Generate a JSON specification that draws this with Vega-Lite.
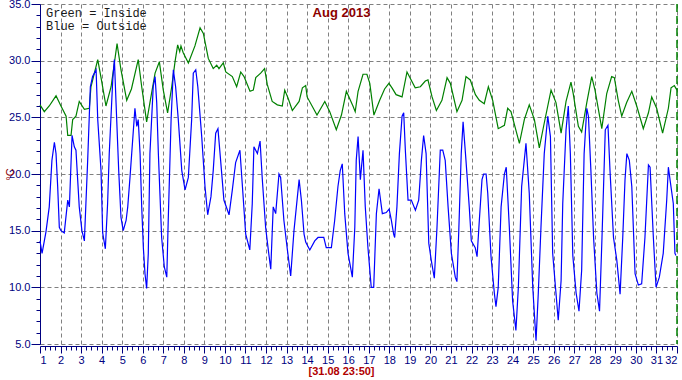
{
  "$schema": "https://vega.github.io/schema/vega-lite/v6.json",
  "width": 637,
  "height": 340,
  "autosize": {"type": "none"},
  "padding": {"left": 40, "top": 4, "right": 5, "bottom": 36},
  "background": "white",
  "config": {"view": {"stroke": null}, "font": "Liberation Sans"},
  "title": {"text": "Aug 2013", "color": "#8B0000", "fontSize": 13, "fontWeight": "bold", "font": "Liberation Sans", "anchor": "middle", "dx": -17, "offset": 0, "dy": 22},
  "datasets": {
    "temps": [
      {"d":1.00,"t":26.1,"s":"Green = Inside"},{"d":1.21,"t":25.5,"s":"Green = Inside"},{"d":1.45,"t":26.0,"s":"Green = Inside"},{"d":1.78,"t":26.9,"s":"Green = Inside"},{"d":2.02,"t":26.0,"s":"Green = Inside"},{"d":2.27,"t":25.1,"s":"Green = Inside"},{"d":2.35,"t":23.4,"s":"Green = Inside"},{"d":2.51,"t":23.4,"s":"Green = Inside"},{"d":2.59,"t":24.8,"s":"Green = Inside"},{"d":2.75,"t":25.1,"s":"Green = Inside"},{"d":2.91,"t":26.4,"s":"Green = Inside"},{"d":3.16,"t":25.7,"s":"Green = Inside"},{"d":3.40,"t":25.8,"s":"Green = Inside"},{"d":3.48,"t":27.7,"s":"Green = Inside"},{"d":3.81,"t":30.1,"s":"Green = Inside"},{"d":3.97,"t":28.5,"s":"Green = Inside"},{"d":4.21,"t":26.0,"s":"Green = Inside"},{"d":4.46,"t":27.7,"s":"Green = Inside"},{"d":4.75,"t":31.5,"s":"Green = Inside"},{"d":4.94,"t":29.2,"s":"Green = Inside"},{"d":5.22,"t":26.5,"s":"Green = Inside"},{"d":5.45,"t":27.5,"s":"Green = Inside"},{"d":5.78,"t":30.1,"s":"Green = Inside"},{"d":5.95,"t":27.7,"s":"Green = Inside"},{"d":6.19,"t":24.6,"s":"Green = Inside"},{"d":6.35,"t":26.3,"s":"Green = Inside"},{"d":6.60,"t":28.9,"s":"Green = Inside"},{"d":6.81,"t":29.9,"s":"Green = Inside"},{"d":7.00,"t":27.4,"s":"Green = Inside"},{"d":7.21,"t":25.4,"s":"Green = Inside"},{"d":7.41,"t":27.7,"s":"Green = Inside"},{"d":7.57,"t":29.9,"s":"Green = Inside"},{"d":7.70,"t":31.4,"s":"Green = Inside"},{"d":7.80,"t":30.8,"s":"Green = Inside"},{"d":7.86,"t":31.3,"s":"Green = Inside"},{"d":7.97,"t":30.7,"s":"Green = Inside"},{"d":8.22,"t":29.8,"s":"Green = Inside"},{"d":8.54,"t":31.3,"s":"Green = Inside"},{"d":8.79,"t":32.9,"s":"Green = Inside"},{"d":8.95,"t":32.4,"s":"Green = Inside"},{"d":9.19,"t":30.2,"s":"Green = Inside"},{"d":9.43,"t":29.3,"s":"Green = Inside"},{"d":9.60,"t":29.6,"s":"Green = Inside"},{"d":9.71,"t":29.3,"s":"Green = Inside"},{"d":9.92,"t":29.8,"s":"Green = Inside"},{"d":10.04,"t":29.0,"s":"Green = Inside"},{"d":10.36,"t":28.6,"s":"Green = Inside"},{"d":10.57,"t":27.7,"s":"Green = Inside"},{"d":10.77,"t":29.0,"s":"Green = Inside"},{"d":10.93,"t":28.6,"s":"Green = Inside"},{"d":11.22,"t":27.3,"s":"Green = Inside"},{"d":11.38,"t":27.4,"s":"Green = Inside"},{"d":11.50,"t":28.5,"s":"Green = Inside"},{"d":11.74,"t":28.9,"s":"Green = Inside"},{"d":11.93,"t":29.3,"s":"Green = Inside"},{"d":12.06,"t":27.9,"s":"Green = Inside"},{"d":12.30,"t":26.4,"s":"Green = Inside"},{"d":12.55,"t":26.1,"s":"Green = Inside"},{"d":12.79,"t":26.0,"s":"Green = Inside"},{"d":12.91,"t":27.4,"s":"Green = Inside"},{"d":13.07,"t":26.7,"s":"Green = Inside"},{"d":13.28,"t":25.6,"s":"Green = Inside"},{"d":13.61,"t":26.4,"s":"Green = Inside"},{"d":13.77,"t":27.6,"s":"Green = Inside"},{"d":13.93,"t":27.8,"s":"Green = Inside"},{"d":14.00,"t":26.8,"s":"Green = Inside"},{"d":14.48,"t":25.2,"s":"Green = Inside"},{"d":14.86,"t":26.4,"s":"Green = Inside"},{"d":15.10,"t":25.5,"s":"Green = Inside"},{"d":15.42,"t":23.9,"s":"Green = Inside"},{"d":15.67,"t":25.2,"s":"Green = Inside"},{"d":15.91,"t":27.3,"s":"Green = Inside"},{"d":16.23,"t":26.0,"s":"Green = Inside"},{"d":16.34,"t":25.5,"s":"Green = Inside"},{"d":16.48,"t":27.3,"s":"Green = Inside"},{"d":16.72,"t":28.8,"s":"Green = Inside"},{"d":16.91,"t":28.8,"s":"Green = Inside"},{"d":17.05,"t":28.0,"s":"Green = Inside"},{"d":17.25,"t":25.2,"s":"Green = Inside"},{"d":17.53,"t":26.5,"s":"Green = Inside"},{"d":17.77,"t":27.5,"s":"Green = Inside"},{"d":17.98,"t":28.0,"s":"Green = Inside"},{"d":18.13,"t":27.6,"s":"Green = Inside"},{"d":18.33,"t":27.0,"s":"Green = Inside"},{"d":18.62,"t":26.8,"s":"Green = Inside"},{"d":18.86,"t":29.0,"s":"Green = Inside"},{"d":19.26,"t":27.6,"s":"Green = Inside"},{"d":19.51,"t":27.7,"s":"Green = Inside"},{"d":19.75,"t":28.2,"s":"Green = Inside"},{"d":19.88,"t":28.3,"s":"Green = Inside"},{"d":20.08,"t":26.8,"s":"Green = Inside"},{"d":20.29,"t":25.6,"s":"Green = Inside"},{"d":20.56,"t":26.5,"s":"Green = Inside"},{"d":20.81,"t":28.5,"s":"Green = Inside"},{"d":20.97,"t":28.0,"s":"Green = Inside"},{"d":21.29,"t":25.5,"s":"Green = Inside"},{"d":21.54,"t":26.5,"s":"Green = Inside"},{"d":21.73,"t":28.6,"s":"Green = Inside"},{"d":21.94,"t":28.3,"s":"Green = Inside"},{"d":22.19,"t":27.0,"s":"Green = Inside"},{"d":22.38,"t":26.5,"s":"Green = Inside"},{"d":22.62,"t":26.2,"s":"Green = Inside"},{"d":22.82,"t":27.7,"s":"Green = Inside"},{"d":23.03,"t":26.5,"s":"Green = Inside"},{"d":23.30,"t":24.0,"s":"Green = Inside"},{"d":23.60,"t":24.3,"s":"Green = Inside"},{"d":23.76,"t":25.8,"s":"Green = Inside"},{"d":23.92,"t":25.5,"s":"Green = Inside"},{"d":24.33,"t":22.7,"s":"Green = Inside"},{"d":24.57,"t":24.8,"s":"Green = Inside"},{"d":24.81,"t":26.1,"s":"Green = Inside"},{"d":25.06,"t":24.8,"s":"Green = Inside"},{"d":25.30,"t":22.3,"s":"Green = Inside"},{"d":25.54,"t":24.5,"s":"Green = Inside"},{"d":25.87,"t":27.4,"s":"Green = Inside"},{"d":26.11,"t":26.3,"s":"Green = Inside"},{"d":26.36,"t":23.6,"s":"Green = Inside"},{"d":26.60,"t":26.4,"s":"Green = Inside"},{"d":26.84,"t":28.1,"s":"Green = Inside"},{"d":26.95,"t":27.1,"s":"Green = Inside"},{"d":27.20,"t":24.2,"s":"Green = Inside"},{"d":27.36,"t":23.7,"s":"Green = Inside"},{"d":27.61,"t":26.3,"s":"Green = Inside"},{"d":27.85,"t":28.6,"s":"Green = Inside"},{"d":28.01,"t":27.4,"s":"Green = Inside"},{"d":28.34,"t":24.0,"s":"Green = Inside"},{"d":28.58,"t":27.1,"s":"Green = Inside"},{"d":28.82,"t":28.6,"s":"Green = Inside"},{"d":28.95,"t":28.5,"s":"Green = Inside"},{"d":29.14,"t":26.5,"s":"Green = Inside"},{"d":29.31,"t":25.1,"s":"Green = Inside"},{"d":29.55,"t":26.3,"s":"Green = Inside"},{"d":29.80,"t":27.3,"s":"Green = Inside"},{"d":30.04,"t":26.0,"s":"Green = Inside"},{"d":30.36,"t":24.0,"s":"Green = Inside"},{"d":30.61,"t":25.4,"s":"Green = Inside"},{"d":30.77,"t":26.8,"s":"Green = Inside"},{"d":31.01,"t":25.8,"s":"Green = Inside"},{"d":31.30,"t":23.6,"s":"Green = Inside"},{"d":31.58,"t":25.8,"s":"Green = Inside"},{"d":31.71,"t":27.6,"s":"Green = Inside"},{"d":31.87,"t":27.8,"s":"Green = Inside"},{"d":32.00,"t":27.4,"s":"Green = Inside"},
      {"d":1.00,"t":14.1,"s":"Blue = Outside"},{"d":1.10,"t":13.0,"s":"Blue = Outside"},{"d":1.29,"t":14.9,"s":"Blue = Outside"},{"d":1.45,"t":17.1,"s":"Blue = Outside"},{"d":1.58,"t":21.2,"s":"Blue = Outside"},{"d":1.70,"t":22.8,"s":"Blue = Outside"},{"d":1.78,"t":21.8,"s":"Blue = Outside"},{"d":1.86,"t":18.9,"s":"Blue = Outside"},{"d":1.94,"t":15.3,"s":"Blue = Outside"},{"d":2.02,"t":15.0,"s":"Blue = Outside"},{"d":2.18,"t":14.8,"s":"Blue = Outside"},{"d":2.35,"t":17.7,"s":"Blue = Outside"},{"d":2.43,"t":17.1,"s":"Blue = Outside"},{"d":2.56,"t":23.4,"s":"Blue = Outside"},{"d":2.67,"t":22.4,"s":"Blue = Outside"},{"d":2.75,"t":22.1,"s":"Blue = Outside"},{"d":2.91,"t":17.1,"s":"Blue = Outside"},{"d":3.04,"t":15.0,"s":"Blue = Outside"},{"d":3.16,"t":14.1,"s":"Blue = Outside"},{"d":3.32,"t":21.2,"s":"Blue = Outside"},{"d":3.45,"t":27.7,"s":"Blue = Outside"},{"d":3.56,"t":28.6,"s":"Blue = Outside"},{"d":3.73,"t":29.2,"s":"Blue = Outside"},{"d":3.81,"t":24.8,"s":"Blue = Outside"},{"d":3.97,"t":20.3,"s":"Blue = Outside"},{"d":4.05,"t":14.8,"s":"Blue = Outside"},{"d":4.18,"t":13.4,"s":"Blue = Outside"},{"d":4.29,"t":17.4,"s":"Blue = Outside"},{"d":4.37,"t":21.8,"s":"Blue = Outside"},{"d":4.54,"t":28.3,"s":"Blue = Outside"},{"d":4.62,"t":30.1,"s":"Blue = Outside"},{"d":4.70,"t":26.3,"s":"Blue = Outside"},{"d":4.83,"t":20.3,"s":"Blue = Outside"},{"d":4.94,"t":16.2,"s":"Blue = Outside"},{"d":5.05,"t":15.0,"s":"Blue = Outside"},{"d":5.19,"t":15.9,"s":"Blue = Outside"},{"d":5.27,"t":17.1,"s":"Blue = Outside"},{"d":5.38,"t":19.7,"s":"Blue = Outside"},{"d":5.62,"t":25.8,"s":"Blue = Outside"},{"d":5.71,"t":24.2,"s":"Blue = Outside"},{"d":5.78,"t":24.8,"s":"Blue = Outside"},{"d":5.87,"t":21.8,"s":"Blue = Outside"},{"d":5.95,"t":17.1,"s":"Blue = Outside"},{"d":6.03,"t":13.5,"s":"Blue = Outside"},{"d":6.11,"t":11.2,"s":"Blue = Outside"},{"d":6.19,"t":9.9,"s":"Blue = Outside"},{"d":6.27,"t":13.0,"s":"Blue = Outside"},{"d":6.35,"t":21.8,"s":"Blue = Outside"},{"d":6.51,"t":27.7,"s":"Blue = Outside"},{"d":6.60,"t":28.6,"s":"Blue = Outside"},{"d":6.68,"t":26.3,"s":"Blue = Outside"},{"d":6.76,"t":21.8,"s":"Blue = Outside"},{"d":6.92,"t":14.4,"s":"Blue = Outside"},{"d":7.05,"t":11.8,"s":"Blue = Outside"},{"d":7.17,"t":10.9,"s":"Blue = Outside"},{"d":7.24,"t":15.9,"s":"Blue = Outside"},{"d":7.38,"t":24.8,"s":"Blue = Outside"},{"d":7.49,"t":29.2,"s":"Blue = Outside"},{"d":7.60,"t":27.7,"s":"Blue = Outside"},{"d":7.73,"t":24.8,"s":"Blue = Outside"},{"d":7.90,"t":20.3,"s":"Blue = Outside"},{"d":8.06,"t":18.6,"s":"Blue = Outside"},{"d":8.22,"t":19.7,"s":"Blue = Outside"},{"d":8.38,"t":24.8,"s":"Blue = Outside"},{"d":8.46,"t":28.9,"s":"Blue = Outside"},{"d":8.58,"t":29.2,"s":"Blue = Outside"},{"d":8.68,"t":27.7,"s":"Blue = Outside"},{"d":8.87,"t":23.3,"s":"Blue = Outside"},{"d":9.03,"t":18.9,"s":"Blue = Outside"},{"d":9.16,"t":16.4,"s":"Blue = Outside"},{"d":9.32,"t":18.0,"s":"Blue = Outside"},{"d":9.43,"t":20.3,"s":"Blue = Outside"},{"d":9.55,"t":23.6,"s":"Blue = Outside"},{"d":9.66,"t":24.0,"s":"Blue = Outside"},{"d":9.79,"t":21.2,"s":"Blue = Outside"},{"d":9.95,"t":17.7,"s":"Blue = Outside"},{"d":10.20,"t":16.4,"s":"Blue = Outside"},{"d":10.36,"t":18.6,"s":"Blue = Outside"},{"d":10.52,"t":21.0,"s":"Blue = Outside"},{"d":10.73,"t":22.1,"s":"Blue = Outside"},{"d":10.84,"t":19.2,"s":"Blue = Outside"},{"d":11.01,"t":14.7,"s":"Blue = Outside"},{"d":11.21,"t":13.3,"s":"Blue = Outside"},{"d":11.33,"t":17.4,"s":"Blue = Outside"},{"d":11.41,"t":22.4,"s":"Blue = Outside"},{"d":11.58,"t":21.8,"s":"Blue = Outside"},{"d":11.71,"t":22.9,"s":"Blue = Outside"},{"d":11.82,"t":19.5,"s":"Blue = Outside"},{"d":11.98,"t":15.3,"s":"Blue = Outside"},{"d":12.11,"t":13.3,"s":"Blue = Outside"},{"d":12.23,"t":11.6,"s":"Blue = Outside"},{"d":12.35,"t":17.1,"s":"Blue = Outside"},{"d":12.47,"t":16.5,"s":"Blue = Outside"},{"d":12.63,"t":20.0,"s":"Blue = Outside"},{"d":12.71,"t":19.7,"s":"Blue = Outside"},{"d":12.87,"t":15.9,"s":"Blue = Outside"},{"d":13.04,"t":13.3,"s":"Blue = Outside"},{"d":13.20,"t":11.0,"s":"Blue = Outside"},{"d":13.36,"t":15.0,"s":"Blue = Outside"},{"d":13.61,"t":19.5,"s":"Blue = Outside"},{"d":13.72,"t":17.7,"s":"Blue = Outside"},{"d":13.85,"t":14.7,"s":"Blue = Outside"},{"d":13.93,"t":14.0,"s":"Blue = Outside"},{"d":14.13,"t":13.3,"s":"Blue = Outside"},{"d":14.37,"t":14.1,"s":"Blue = Outside"},{"d":14.53,"t":14.4,"s":"Blue = Outside"},{"d":14.81,"t":14.4,"s":"Blue = Outside"},{"d":14.93,"t":13.5,"s":"Blue = Outside"},{"d":15.18,"t":13.5,"s":"Blue = Outside"},{"d":15.34,"t":15.9,"s":"Blue = Outside"},{"d":15.50,"t":18.9,"s":"Blue = Outside"},{"d":15.61,"t":20.3,"s":"Blue = Outside"},{"d":15.71,"t":20.9,"s":"Blue = Outside"},{"d":15.83,"t":16.5,"s":"Blue = Outside"},{"d":15.99,"t":13.0,"s":"Blue = Outside"},{"d":16.20,"t":10.9,"s":"Blue = Outside"},{"d":16.32,"t":15.3,"s":"Blue = Outside"},{"d":16.39,"t":21.2,"s":"Blue = Outside"},{"d":16.48,"t":23.3,"s":"Blue = Outside"},{"d":16.59,"t":19.5,"s":"Blue = Outside"},{"d":16.72,"t":22.1,"s":"Blue = Outside"},{"d":16.83,"t":17.1,"s":"Blue = Outside"},{"d":16.96,"t":13.5,"s":"Blue = Outside"},{"d":17.12,"t":10.0,"s":"Blue = Outside"},{"d":17.24,"t":10.0,"s":"Blue = Outside"},{"d":17.37,"t":16.5,"s":"Blue = Outside"},{"d":17.50,"t":18.7,"s":"Blue = Outside"},{"d":17.66,"t":16.5,"s":"Blue = Outside"},{"d":17.85,"t":16.6,"s":"Blue = Outside"},{"d":17.99,"t":16.9,"s":"Blue = Outside"},{"d":18.10,"t":15.9,"s":"Blue = Outside"},{"d":18.21,"t":14.7,"s":"Blue = Outside"},{"d":18.26,"t":14.4,"s":"Blue = Outside"},{"d":18.37,"t":17.1,"s":"Blue = Outside"},{"d":18.49,"t":21.8,"s":"Blue = Outside"},{"d":18.62,"t":25.1,"s":"Blue = Outside"},{"d":18.70,"t":25.4,"s":"Blue = Outside"},{"d":18.78,"t":22.1,"s":"Blue = Outside"},{"d":18.91,"t":17.7,"s":"Blue = Outside"},{"d":19.07,"t":17.7,"s":"Blue = Outside"},{"d":19.27,"t":16.8,"s":"Blue = Outside"},{"d":19.43,"t":17.7,"s":"Blue = Outside"},{"d":19.56,"t":21.2,"s":"Blue = Outside"},{"d":19.67,"t":23.4,"s":"Blue = Outside"},{"d":19.79,"t":21.8,"s":"Blue = Outside"},{"d":19.92,"t":13.9,"s":"Blue = Outside"},{"d":20.04,"t":12.4,"s":"Blue = Outside"},{"d":20.19,"t":10.8,"s":"Blue = Outside"},{"d":20.32,"t":15.3,"s":"Blue = Outside"},{"d":20.48,"t":22.1,"s":"Blue = Outside"},{"d":20.60,"t":22.1,"s":"Blue = Outside"},{"d":20.72,"t":21.2,"s":"Blue = Outside"},{"d":20.86,"t":17.1,"s":"Blue = Outside"},{"d":21.02,"t":13.0,"s":"Blue = Outside"},{"d":21.21,"t":10.9,"s":"Blue = Outside"},{"d":21.29,"t":10.5,"s":"Blue = Outside"},{"d":21.38,"t":15.0,"s":"Blue = Outside"},{"d":21.50,"t":21.8,"s":"Blue = Outside"},{"d":21.59,"t":24.6,"s":"Blue = Outside"},{"d":21.73,"t":21.2,"s":"Blue = Outside"},{"d":21.89,"t":17.1,"s":"Blue = Outside"},{"d":21.99,"t":14.1,"s":"Blue = Outside"},{"d":22.18,"t":13.5,"s":"Blue = Outside"},{"d":22.27,"t":12.7,"s":"Blue = Outside"},{"d":22.38,"t":15.9,"s":"Blue = Outside"},{"d":22.51,"t":19.5,"s":"Blue = Outside"},{"d":22.59,"t":20.0,"s":"Blue = Outside"},{"d":22.71,"t":20.0,"s":"Blue = Outside"},{"d":22.79,"t":18.3,"s":"Blue = Outside"},{"d":22.95,"t":12.7,"s":"Blue = Outside"},{"d":23.11,"t":9.5,"s":"Blue = Outside"},{"d":23.19,"t":8.3,"s":"Blue = Outside"},{"d":23.30,"t":10.0,"s":"Blue = Outside"},{"d":23.44,"t":17.1,"s":"Blue = Outside"},{"d":23.60,"t":20.0,"s":"Blue = Outside"},{"d":23.69,"t":20.6,"s":"Blue = Outside"},{"d":23.84,"t":15.3,"s":"Blue = Outside"},{"d":24.00,"t":8.8,"s":"Blue = Outside"},{"d":24.16,"t":6.2,"s":"Blue = Outside"},{"d":24.28,"t":10.0,"s":"Blue = Outside"},{"d":24.44,"t":18.9,"s":"Blue = Outside"},{"d":24.65,"t":22.7,"s":"Blue = Outside"},{"d":24.81,"t":18.3,"s":"Blue = Outside"},{"d":24.98,"t":10.0,"s":"Blue = Outside"},{"d":25.14,"t":5.3,"s":"Blue = Outside"},{"d":25.25,"t":9.5,"s":"Blue = Outside"},{"d":25.38,"t":15.3,"s":"Blue = Outside"},{"d":25.54,"t":21.8,"s":"Blue = Outside"},{"d":25.71,"t":25.1,"s":"Blue = Outside"},{"d":25.84,"t":23.3,"s":"Blue = Outside"},{"d":25.95,"t":13.0,"s":"Blue = Outside"},{"d":26.11,"t":9.5,"s":"Blue = Outside"},{"d":26.22,"t":7.1,"s":"Blue = Outside"},{"d":26.36,"t":10.6,"s":"Blue = Outside"},{"d":26.44,"t":17.4,"s":"Blue = Outside"},{"d":26.60,"t":23.9,"s":"Blue = Outside"},{"d":26.71,"t":26.0,"s":"Blue = Outside"},{"d":26.81,"t":21.8,"s":"Blue = Outside"},{"d":26.93,"t":12.8,"s":"Blue = Outside"},{"d":27.09,"t":9.5,"s":"Blue = Outside"},{"d":27.23,"t":7.9,"s":"Blue = Outside"},{"d":27.36,"t":11.5,"s":"Blue = Outside"},{"d":27.48,"t":21.8,"s":"Blue = Outside"},{"d":27.61,"t":25.8,"s":"Blue = Outside"},{"d":27.69,"t":25.1,"s":"Blue = Outside"},{"d":27.81,"t":20.3,"s":"Blue = Outside"},{"d":27.94,"t":14.4,"s":"Blue = Outside"},{"d":28.10,"t":9.5,"s":"Blue = Outside"},{"d":28.23,"t":7.9,"s":"Blue = Outside"},{"d":28.35,"t":14.4,"s":"Blue = Outside"},{"d":28.51,"t":23.9,"s":"Blue = Outside"},{"d":28.64,"t":24.3,"s":"Blue = Outside"},{"d":28.74,"t":20.3,"s":"Blue = Outside"},{"d":28.91,"t":14.4,"s":"Blue = Outside"},{"d":29.07,"t":12.4,"s":"Blue = Outside"},{"d":29.23,"t":9.4,"s":"Blue = Outside"},{"d":29.36,"t":14.4,"s":"Blue = Outside"},{"d":29.47,"t":19.5,"s":"Blue = Outside"},{"d":29.56,"t":21.8,"s":"Blue = Outside"},{"d":29.68,"t":21.2,"s":"Blue = Outside"},{"d":29.80,"t":18.9,"s":"Blue = Outside"},{"d":29.96,"t":11.2,"s":"Blue = Outside"},{"d":30.12,"t":10.2,"s":"Blue = Outside"},{"d":30.28,"t":10.3,"s":"Blue = Outside"},{"d":30.44,"t":14.4,"s":"Blue = Outside"},{"d":30.61,"t":20.8,"s":"Blue = Outside"},{"d":30.69,"t":20.6,"s":"Blue = Outside"},{"d":30.85,"t":14.4,"s":"Blue = Outside"},{"d":30.98,"t":10.0,"s":"Blue = Outside"},{"d":31.14,"t":10.9,"s":"Blue = Outside"},{"d":31.33,"t":13.0,"s":"Blue = Outside"},{"d":31.50,"t":17.7,"s":"Blue = Outside"},{"d":31.58,"t":20.6,"s":"Blue = Outside"},{"d":31.66,"t":19.5,"s":"Blue = Outside"},{"d":31.82,"t":17.4,"s":"Blue = Outside"},{"d":31.90,"t":13.0,"s":"Blue = Outside"},{"d":31.95,"t":12.8,"s":"Blue = Outside"}
    ],
    "marker": [{"d": 32}]
  },
  "layer": [
    {
      "data": {"name": "temps"},
      "mark": {"type": "line", "strokeWidth": 1.2},
      "encoding": {
        "x": {"field": "d", "type": "quantitative", "scale": {"domain": [1, 32], "nice": false, "zero": false},
          "axis": {"values": [1,2,3,4,5,6,7,8,9,10,11,12,13,14,15,16,17,18,19,20,21,22,23,24,25,26,27,28,29,30,31,32], "format": "d", "title": "[31.08 23:50]", "titleColor": "#B00000", "titleFontSize": 11, "titleFontWeight": "bold", "titleFont": "Liberation Sans", "titleX": 301, "titleY": 25, "titleBaseline": "middle", "titleAlign": "center", "labelColor": "#000080", "labelFontSize": 11, "labelFont": "Liberation Sans", "labelPadding": 1, "tickColor": "#000080", "tickSize": 7, "domainColor": "#000080", "grid": true, "gridColor": "#808080", "gridDash": [4, 3], "gridWidth": 1, "offset": 2}},
        "y": {"field": "t", "type": "quantitative", "scale": {"domain": [5, 35], "nice": false, "zero": false},
          "axis": {"values": [5,10,15,20,25,30,35], "format": ".1f", "title": "°C", "titleColor": "#8B0000", "titleFontSize": 11, "titleFontWeight": "normal", "titleX": -30, "titleY": 170, "titleAngle": -90, "titleBaseline": "middle", "titleAlign": "center", "labelColor": "#000080", "labelFontSize": 11, "labelFont": "Liberation Sans", "labelPadding": 1, "tickColor": "#000080", "tickSize": 9, "domainColor": "#000080", "grid": true, "gridColor": "#808080", "gridDash": [4, 3], "gridWidth": 1}},
        "color": {"field": "s", "type": "nominal", "scale": {"domain": ["Green = Inside", "Blue = Outside"], "range": ["#008000", "#0000FF"]},
          "legend": {"orient": "none", "legendX": -6, "legendY": 3, "title": null, "symbolSize": 0, "symbolStrokeWidth": 0, "symbolOpacity": 0, "labelOffset": 0, "padding": 0, "rowPadding": 1, "labelFont": "Liberation Mono", "labelFontSize": 12, "labelColor": "#1a1a1a"}}
      }
    },
    {
      "data": {"name": "marker"},
      "mark": {"type": "rule", "color": "#008000", "strokeDash": [8, 4], "strokeWidth": 1.5},
      "encoding": {"x": {"field": "d", "type": "quantitative", "axis": null}}
    },
    {
      "data": {"name": "temps"},
      "mark": {"type": "point", "opacity": 0},
      "encoding": {
        "x": {"field": "d", "type": "quantitative", "axis": {"orient": "bottom", "values": [1.25,1.5,1.75,2.25,2.5,2.75,3.25,3.5,3.75,4.25,4.5,4.75,5.25,5.5,5.75,6.25,6.5,6.75,7.25,7.5,7.75,8.25,8.5,8.75,9.25,9.5,9.75,10.25,10.5,10.75,11.25,11.5,11.75,12.25,12.5,12.75,13.25,13.5,13.75,14.25,14.5,14.75,15.25,15.5,15.75,16.25,16.5,16.75,17.25,17.5,17.75,18.25,18.5,18.75,19.25,19.5,19.75,20.25,20.5,20.75,21.25,21.5,21.75,22.25,22.5,22.75,23.25,23.5,23.75,24.25,24.5,24.75,25.25,25.5,25.75,26.25,26.5,26.75,27.25,27.5,27.75,28.25,28.5,28.75,29.25,29.5,29.75,30.25,30.5,30.75,31.25,31.5,31.75], "labels": false, "title": null, "domain": false, "grid": false, "tickColor": "#000080", "tickSize": 4, "offset": 2}},
        "y": {"field": "t", "type": "quantitative", "axis": {"orient": "left", "values": [6,7,8,9,11,12,13,14,16,17,18,19,21,22,23,24,26,27,28,29,31,32,33,34], "labels": false, "title": null, "domain": false, "grid": false, "tickColor": "#000080", "tickSize": 4}}
      }
    }
  ],
  "resolve": {"axis": {"x": "independent", "y": "independent"}}
}
